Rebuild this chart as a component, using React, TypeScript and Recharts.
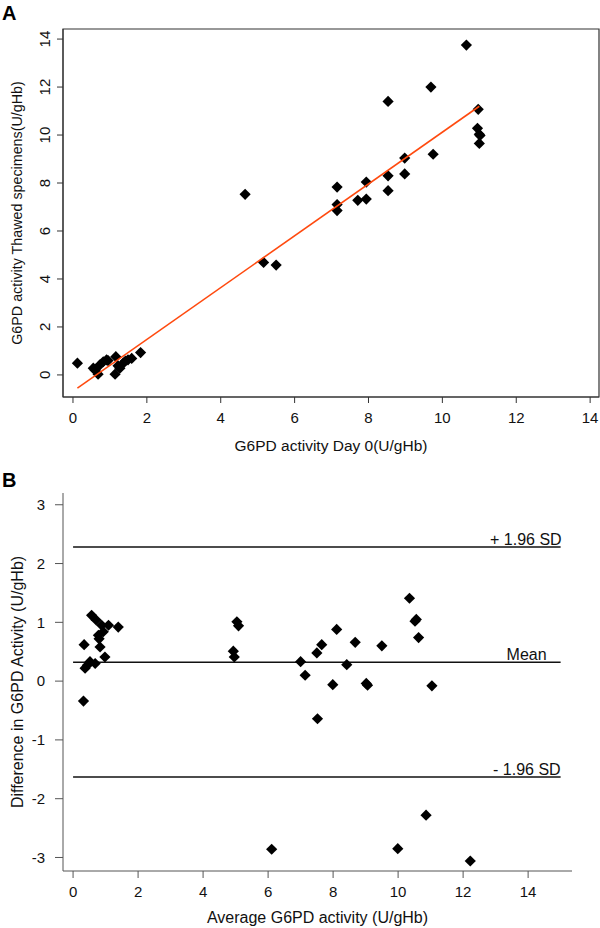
import React from 'react';
import {
  ScatterChart,
  Scatter,
  XAxis,
  YAxis,
  ReferenceArea,
  ReferenceLine,
} from 'recharts';

// Panel A: day 0 vs thawed specimens (U/gHb)
const dayZero = [
  0.12, 0.55, 0.6, 0.68, 0.73, 0.82, 0.91, 0.95, 1.14, 1.16, 1.22, 1.27, 1.36, 1.42, 1.49, 1.59, 1.83,
  4.66, 5.16, 5.5, 7.15, 7.15, 7.15, 7.71, 7.94, 7.94, 8.53, 8.53, 8.53, 8.98, 8.98,
  9.69, 9.75, 10.65, 10.97, 10.95, 11.0, 11.02, 11.0,
];
const thawed = [
  0.49, 0.28, 0.2, 0.03, 0.42, 0.55, 0.63, 0.6, 0.03, 0.76, 0.38, 0.28, 0.49, 0.58, 0.63, 0.69, 0.93,
  7.53, 4.69, 4.58, 7.83, 7.1, 6.85, 7.28, 8.04, 7.33, 11.4, 8.3, 7.68, 9.04, 8.38,
  12.0, 9.2, 13.75, 11.07, 10.28, 10.03, 9.98, 9.65,
];
const fitX = [0.12, 11.0];
const fitY = [-0.55, 11.2];

// Panel B: Bland-Altman
const avgActivity = [
  0.32, 0.34, 0.37, 0.44, 0.52, 0.57, 0.68, 0.71, 0.78, 0.8, 0.83, 0.88, 0.93, 0.98, 1.09, 1.39,
  4.93, 4.96, 5.04, 5.09, 6.11, 7.0, 7.14, 7.5, 7.52, 7.65, 7.99, 8.11, 8.42, 8.68, 9.02, 9.06,
  9.5, 9.99, 10.35, 10.52, 10.56, 10.63, 10.86, 11.04, 12.22,
];
const diffActivity = [
  -0.34, 0.62, 0.22, 0.27, 0.33, 1.12, 0.3, 1.04, 0.78, 0.72, 0.58, 0.95, 0.84, 0.41, 0.95, 0.92,
  0.51, 0.41, 1.01, 0.94, -2.86, 0.33, 0.1, 0.48, -0.64, 0.62, -0.06, 0.88, 0.28, 0.66, -0.04, -0.07,
  0.6, -2.85, 1.41, 1.02, 1.05, 0.74, -2.28, -0.08, -3.06,
];
const upperLimit = 2.28;
const meanDiff = 0.32;
const lowerLimit = -1.63;

const ticksA = [0, 2, 4, 6, 8, 10, 12, 14];
const ticksBx = [0, 2, 4, 6, 8, 10, 12, 14];
const ticksBy = [-3, -2, -1, 0, 1, 2, 3];

const FONT = '"Liberation Sans", Arial, Helvetica, sans-serif';

const scatterA = dayZero.map((x, i) => ({ x, y: thawed[i] }));
const fitLine = fitX.map((x, i) => ({ x, y: fitY[i] }));
const scatterB = avgActivity.map((x, i) => ({ x, y: diffActivity[i] }));

const Diamond = (props: any) => {
  const { cx, cy } = props;
  const r = 5.6;
  return <path d={`M${cx},${cy - r}L${cx + r},${cy}L${cx},${cy + r}L${cx - r},${cy}Z`} fill="#000" />;
};

const RotatedTick = (props: any) => {
  const { x, y, payload } = props;
  return (
    <text x={x} y={y} transform={`rotate(-90, ${x}, ${y})`} textAnchor="middle" fontSize={15} fill="#111" fontFamily={FONT}>
      {payload.value}
    </text>
  );
};

const refLabel = (text: string, back: number) => (p: any) => {
  const vb = p.viewBox;
  return (
    <text x={vb.x + vb.width - back} y={vb.y - 2} textAnchor="end" fontSize={16} fill="#111" fontFamily={FONT}>
      {text}
    </text>
  );
};

export default function App() {
  const tickStyle = { fontSize: 15, fill: '#111', fontFamily: FONT };
  const labelStyle = { fontSize: 16, fill: '#111', fontFamily: FONT };
  return (
    <div style={{ position: 'absolute', left: 0, top: 0, width: 600, height: 928, background: '#fff', fontFamily: FONT }}>
      <div style={{ position: 'absolute', left: 2, top: 2, fontSize: 20, fontWeight: 'bold', color: '#000' }}>A</div>
      <div style={{ position: 'absolute', left: 2, top: 469, fontSize: 20, fontWeight: 'bold', color: '#000' }}>B</div>

      <div style={{ position: 'absolute', left: 0, top: 0 }}>
        <ScatterChart width={600} height={470} margin={{ top: 29, right: 1, bottom: 0, left: 0 }}>
          <XAxis
            type="number"
            dataKey="x"
            domain={[-0.27, 14.24]}
            ticks={ticksA}
            allowDataOverflow
            height={73}
            tickSize={6}
            tickMargin={9}
            tick={tickStyle}
            stroke="#333"
            label={{
              value: 'G6PD activity Day 0(U/gHb)',
              position: 'insideBottom',
              offset: 19,
              style: { ...labelStyle, fontSize: 15.5 },
            }}
          />
          <YAxis
            type="number"
            dataKey="y"
            domain={[-0.92, 14.42]}
            ticks={ticksA}
            allowDataOverflow
            width={63}
            tickSize={6}
            tickMargin={7}
            tick={<RotatedTick />}
            stroke="#333"
            label={{
              value: 'G6PD activity Thawed specimens(U/gHb)',
              angle: -90,
              position: 'insideLeft',
              offset: 17,
              style: { ...labelStyle, fontSize: 14.3, textAnchor: 'middle' },
            }}
          />
          <ReferenceArea x1={-0.27} x2={14.24} y1={-0.92} y2={14.42} fill="none" stroke="#333" strokeWidth={1.2} />
          <Scatter data={scatterA} shape={<Diamond />} isAnimationActive={false} />
          <Scatter
            data={fitLine}
            line={{ stroke: '#ff4a0f', strokeWidth: 1.6 }}
            shape={() => <g />}
            isAnimationActive={false}
          />
        </ScatterChart>
      </div>

      <div style={{ position: 'absolute', left: 0, top: 470 }}>
        <ScatterChart width={600} height={458} margin={{ top: 23, right: 28, bottom: 0, left: 0 }}>
          <XAxis
            type="number"
            dataKey="x"
            domain={[-0.31, 15.35]}
            ticks={ticksBx}
            allowDataOverflow
            height={57}
            tickSize={7}
            tickMargin={8}
            tick={tickStyle}
            stroke="#555"
            label={{ value: 'Average G6PD activity (U/gHb)', position: 'insideBottom', offset: 5, style: labelStyle }}
          />
          <YAxis
            type="number"
            dataKey="y"
            domain={[-3.23, 3.2]}
            ticks={ticksBy}
            allowDataOverflow
            width={63}
            tickSize={8}
            tickMargin={10}
            tick={tickStyle}
            stroke="#555"
            label={{
              value: 'Difference in G6PD Activity (U/gHb)',
              angle: -90,
              position: 'insideLeft',
              offset: 17,
              style: { ...labelStyle, textAnchor: 'middle' },
            }}
          />
          <ReferenceLine
            segment={[{ x: 0, y: upperLimit }, { x: 15, y: upperLimit }]}
            stroke="#111"
            strokeWidth={1.5}
            label={{ content: refLabel('+ 1.96 SD', -1) }}
          />
          <ReferenceLine
            segment={[{ x: 0, y: meanDiff }, { x: 15, y: meanDiff }]}
            stroke="#111"
            strokeWidth={1.5}
            label={{ content: refLabel('Mean', 14) }}
          />
          <ReferenceLine
            segment={[{ x: 0, y: lowerLimit }, { x: 15, y: lowerLimit }]}
            stroke="#111"
            strokeWidth={1.5}
            label={{ content: refLabel('- 1.96 SD', 0) }}
          />
          <Scatter data={scatterB} shape={<Diamond />} isAnimationActive={false} />
        </ScatterChart>
      </div>
    </div>
  );
}
